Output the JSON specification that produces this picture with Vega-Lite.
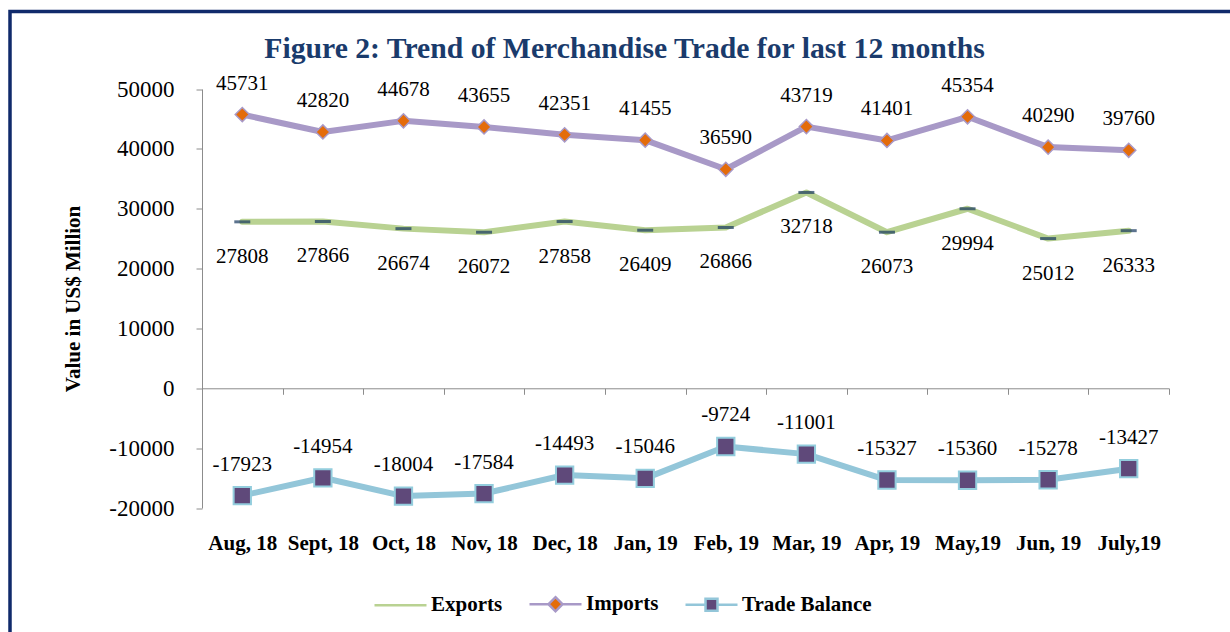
{
  "$schema": "https://vega.github.io/schema/vega-lite/v6.json",
  "autosize": "none",
  "width": 1229,
  "height": 640,
  "padding": {"left": 10, "top": 11.5, "right": -9, "bottom": -19.5},
  "background": "white",
  "config": {
    "view": {"stroke": "#102a6b", "strokeWidth": 3.5},
    "font": "Liberation Serif"
  },
  "title": {
    "text": "Figure 2: Trend of Merchandise Trade for last 12 months",
    "font": "Liberation Serif",
    "fontSize": 29.7,
    "fontWeight": "bold",
    "color": "#1a3b6c",
    "anchor": "middle",
    "frame": "group",
    "baseline": "alphabetic",
    "offset": -76.5
  },
  "data": {
    "values": [
      {"month": "Aug, 18", "series": "Exports", "value": 27808},
      {"month": "Sept, 18", "series": "Exports", "value": 27866},
      {"month": "Oct, 18", "series": "Exports", "value": 26674},
      {"month": "Nov, 18", "series": "Exports", "value": 26072},
      {"month": "Dec, 18", "series": "Exports", "value": 27858},
      {"month": "Jan, 19", "series": "Exports", "value": 26409},
      {"month": "Feb, 19", "series": "Exports", "value": 26866},
      {"month": "Mar, 19", "series": "Exports", "value": 32718},
      {"month": "Apr, 19", "series": "Exports", "value": 26073},
      {"month": "May,19", "series": "Exports", "value": 29994},
      {"month": "Jun, 19", "series": "Exports", "value": 25012},
      {"month": "July,19", "series": "Exports", "value": 26333},
      {"month": "Aug, 18", "series": "Imports", "value": 45731},
      {"month": "Sept, 18", "series": "Imports", "value": 42820},
      {"month": "Oct, 18", "series": "Imports", "value": 44678},
      {"month": "Nov, 18", "series": "Imports", "value": 43655},
      {"month": "Dec, 18", "series": "Imports", "value": 42351},
      {"month": "Jan, 19", "series": "Imports", "value": 41455},
      {"month": "Feb, 19", "series": "Imports", "value": 36590},
      {"month": "Mar, 19", "series": "Imports", "value": 43719},
      {"month": "Apr, 19", "series": "Imports", "value": 41401},
      {"month": "May,19", "series": "Imports", "value": 45354},
      {"month": "Jun, 19", "series": "Imports", "value": 40290},
      {"month": "July,19", "series": "Imports", "value": 39760},
      {"month": "Aug, 18", "series": "Trade Balance", "value": -17923},
      {"month": "Sept, 18", "series": "Trade Balance", "value": -14954},
      {"month": "Oct, 18", "series": "Trade Balance", "value": -18004},
      {"month": "Nov, 18", "series": "Trade Balance", "value": -17584},
      {"month": "Dec, 18", "series": "Trade Balance", "value": -14493},
      {"month": "Jan, 19", "series": "Trade Balance", "value": -15046},
      {"month": "Feb, 19", "series": "Trade Balance", "value": -9724},
      {"month": "Mar, 19", "series": "Trade Balance", "value": -11001},
      {"month": "Apr, 19", "series": "Trade Balance", "value": -15327},
      {"month": "May,19", "series": "Trade Balance", "value": -15360},
      {"month": "Jun, 19", "series": "Trade Balance", "value": -15278},
      {"month": "July,19", "series": "Trade Balance", "value": -13427}
    ]
  },
  "encoding": {
    "x": {
      "field": "month",
      "type": "ordinal",
      "sort": ["Aug, 18", "Sept, 18", "Oct, 18", "Nov, 18", "Dec, 18", "Jan, 19", "Feb, 19", "Mar, 19", "Apr, 19", "May,19", "Jun, 19", "July,19"],
      "scale": {"type": "band", "range": [192, 1159], "paddingInner": 0, "paddingOuter": 0},
      "axis": {
        "orient": "bottom",
        "offset": -263.21,
        "title": null,
        "grid": false,
        "domainColor": "#8c8c8c",
        "domainWidth": 1,
        "tickColor": "#8c8c8c",
        "tickSize": 6,
        "tickBand": "extent",
        "labelFont": "Liberation Serif",
        "labelFontSize": 21,
        "labelFontWeight": "bold",
        "labelColor": "black",
        "labelPadding": 138,
        "labelAngle": 0,
        "labelOverlap": false,
        "labelBound": false
      }
    },
    "y": {
      "field": "value",
      "type": "quantitative",
      "scale": {"domain": [-20000, 50000], "range": [496.5, 77.5], "nice": false, "zero": false},
      "axis": {
        "orient": "left",
        "offset": -192,
        "values": [-20000, -10000, 0, 10000, 20000, 30000, 40000, 50000],
        "labelExpr": "'' + datum.value",
        "grid": false,
        "domainColor": "#8c8c8c",
        "tickColor": "#8c8c8c",
        "tickSize": 6,
        "labelFont": "Liberation Serif",
        "labelFontSize": 23,
        "labelColor": "black",
        "labelPadding": 22,
        "title": "Value in US$ Million",
        "titleFont": "Liberation Serif",
        "titleFontSize": 21,
        "titleFontWeight": "bold",
        "titleColor": "black",
        "titlePadding": 25
      }
    }
  },
  "layer": [
    {
      "mark": {"type": "line", "strokeWidth": 6, "strokeJoin": "round", "strokeCap": "round"},
      "encoding": {
        "color": {
          "field": "series",
          "type": "nominal",
          "scale": {"domain": ["Exports", "Imports", "Trade Balance"], "range": ["#b9d292", "#a899c7", "#93c6d9"]},
          "legend": {
            "orient": "none",
            "legendX": 363,
            "legendY": 565,
            "direction": "horizontal",
            "title": null,
            "padding": 0,
            "labelFont": "Liberation Serif",
            "labelFontSize": 21,
            "labelFontWeight": "bold",
            "labelColor": "black",
            "labelOffset": 3,
            "columnPadding": 21,
            "symbolSize": 2704,
            "symbolStrokeWidth": 2.5,
            "encode": {
              "symbols": {
                "update": {
                  "shape": {"signal": "datum.value === 'Imports' ? 'M-1,0H-0.27M0.27,0H1M0,-0.27L0.27,0L0,0.27L-0.27,0Z' : datum.value === 'Trade Balance' ? 'M-1,0H-0.23M0.23,0H1M-0.23,-0.23H0.23V0.23H-0.23Z' : 'M-1,0H1'"},
                  "fill": {"signal": "datum.value === 'Imports' ? '#e46c0a' : datum.value === 'Trade Balance' ? '#5f497a' : 'transparent'"},
                  "strokeWidth": {"value": 2.5}
                }
              }
            }
          }
        }
      }
    },
    {
      "transform": [{"filter": "datum.series === 'Exports'"}],
      "mark": {"type": "tick", "color": "#17375e", "size": 16, "thickness": 3}
    },
    {
      "transform": [{"filter": "datum.series === 'Imports'"}],
      "mark": {"type": "point", "shape": "diamond", "filled": true, "fill": "#e46c0a", "stroke": "#a899c7", "strokeWidth": 1.5, "size": 200, "opacity": 1}
    },
    {
      "transform": [{"filter": "datum.series === 'Trade Balance'"}],
      "mark": {"type": "point", "shape": "square", "filled": true, "fill": "#5f497a", "stroke": "#93cddd", "strokeWidth": 2, "size": 300, "opacity": 1}
    },
    {
      "transform": [{"filter": "datum.series === 'Imports'"}],
      "mark": {"type": "text", "font": "Liberation Serif", "fontSize": 21, "color": "black", "baseline": "alphabetic", "align": "center", "dy": -25},
      "encoding": {"text": {"field": "value", "type": "nominal"}}
    },
    {
      "transform": [{"filter": "datum.series === 'Exports'"}],
      "mark": {"type": "text", "font": "Liberation Serif", "fontSize": 21, "color": "black", "baseline": "alphabetic", "align": "center", "dy": 41},
      "encoding": {"text": {"field": "value", "type": "nominal"}}
    },
    {
      "transform": [{"filter": "datum.series === 'Trade Balance'"}],
      "mark": {"type": "text", "font": "Liberation Serif", "fontSize": 21, "color": "black", "baseline": "alphabetic", "align": "center", "dy": -25},
      "encoding": {"text": {"field": "value", "type": "nominal"}}
    }
  ]
}
